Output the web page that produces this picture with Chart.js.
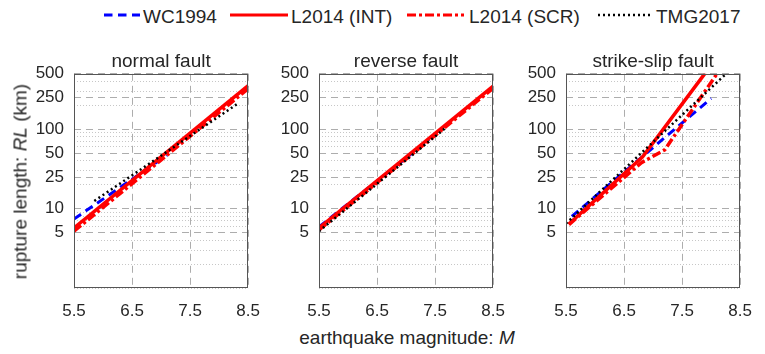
<!DOCTYPE html>
<html>
<head>
<meta charset="utf-8">
<script src="https://cdn.jsdelivr.net/npm/chart.js@4.4.0/dist/chart.umd.min.js"></script>
<style>
  body { margin: 0; background: #fff; }
  #fig {
    position: relative;
    width: 765px;
    height: 354px;
    font-family: "Liberation Sans", Arial, sans-serif;
    color: #262626;
  }
  canvas { position: absolute; }
  .txt { position: absolute; font-size: 19px; line-height: 19px; white-space: nowrap; }
  .key { position: absolute; top: 9px; }
</style>
</head>
<body>
<div id="fig">
  <!-- legend -->
  <svg class="key" style="left:104px" width="36" height="12"><line x1="0" y1="6" x2="36" y2="6" stroke="#0000ff" stroke-width="3" stroke-dasharray="8.5 5.5"/></svg>
  <div class="txt" style="left:143px;top:7px">WC1994</div>
  <svg class="key" style="left:230px" width="58" height="12"><line x1="0" y1="6" x2="58" y2="6" stroke="#ff0000" stroke-width="3"/></svg>
  <div class="txt" style="left:291px;top:7px">L2014 (INT)</div>
  <svg class="key" style="left:407px" width="57" height="12"><line x1="0" y1="6" x2="57" y2="6" stroke="#ff0000" stroke-width="3" stroke-dasharray="9 3 3 3"/></svg>
  <div class="txt" style="left:469px;top:7px">L2014 (SCR)</div>
  <svg class="key" style="left:598px" width="55" height="12"><line x1="0" y1="6" x2="55" y2="6" stroke="#000" stroke-width="2.5" stroke-dasharray="2 3"/></svg>
  <div class="txt" style="left:656px;top:7px">TMG2017</div>

  <canvas id="normalChart" width="263" height="276" style="left:10px;top:48px"></canvas>
  <canvas id="reverseChart" width="263" height="276" style="left:255px;top:48px"></canvas>
  <canvas id="strikeChart" width="263" height="276" style="left:502px;top:48px"></canvas>

  <div class="txt" style="left:-130px;top:172px;width:300px;text-align:center;transform:rotate(-90deg)">rupture length: <i>RL</i> (km)</div>
  <div class="txt" style="left:257px;top:328px;width:300px;text-align:center">earthquake magnitude: <i>M</i></div>
</div>

<script>
// Axis ticks
const magTicks = [5.5, 6.5, 7.5, 8.5];
const rlTicks = [5, 10, 25, 50, 100, 250, 500];
const rlMinor = [1, 2, 3, 4, 6, 7, 8, 9, 20, 30, 40, 60, 70, 80, 90, 200, 300, 400];

// Normal fault
const normalWcM = [5.5, 7.1];
const normalWcRL = [7.4, 47];
const normalIntM = [5.5, 8.5];
const normalIntRL = [5.7, 355];
const normalScrM = [5.5, 8.5];
const normalScrRL = [5.2, 325];
const normalTmgM = [5.85, 8.34];
const normalTmgRL = [12.5, 215];

// Reverse fault
const reverseWcM = [5.5, 7.4];
const reverseWcRL = [5.9, 74];
const reverseIntM = [5.5, 8.5];
const reverseIntRL = [5.7, 350];
const reverseScrM = [5.5, 8.5];
const reverseScrRL = [5.4, 330];
const reverseTmgM = [5.5, 7.68];
const reverseTmgRL = [5.2, 104];

// Strike-slip fault
const strikeWcM = [5.6, 8.0];
const strikeWcRL = [8.0, 245];
const strikeIntM = [5.55, 6.82, 7.9];
const strikeIntRL = [6.4, 45, 514];
const strikeScrM = [5.55, 6.8, 7.2, 8.1];
const strikeScrRL = [6.3, 38, 55, 500];
const strikeTmgM = [5.5, 8.27];
const strikeTmgRL = [6.5, 510];

const FONT = "'Liberation Sans', Arial, sans-serif";
const TEXT = "#262626";

function points(m, rl) {
  return m.map((v, i) => ({ x: v, y: rl[i] }));
}

// Box round the plot area, like MATLAB "box on"
const framePlugin = {
  id: "frame",
  afterDatasetsDraw(chart) {
    const { ctx, chartArea: a } = chart;
    ctx.save();
    ctx.strokeStyle = "#555";
    ctx.lineWidth = 1;
    ctx.strokeRect(
      Math.round(a.left) + 0.5,
      Math.round(a.top) + 0.5,
      Math.round(a.right - a.left) - 1,
      Math.round(a.bottom - a.top) - 1
    );
    ctx.restore();
  },
};

function makePanel(canvasId, title, wc, int, scr, tmg) {
  const ctx = document.getElementById(canvasId).getContext("2d");
  const gridValues = rlTicks.concat(rlMinor).sort((a, b) => a - b);
  const isMajor = (c) => c.tick && rlTicks.includes(c.tick.value);

  return new Chart(ctx, {
    type: "line",
    data: {
      datasets: [
        {
          label: "WC1994",
          data: points(wc[0], wc[1]),
          borderColor: "#0000ff",
          borderWidth: 3,
          borderDash: [8.5, 5.5],
          order: 4,
        },
        {
          label: "L2014 (INT)",
          data: points(int[0], int[1]),
          borderColor: "#ff0000",
          borderWidth: 3.5,
          order: 3,
        },
        {
          label: "L2014 (SCR)",
          data: points(scr[0], scr[1]),
          borderColor: "#ff0000",
          borderWidth: 3.5,
          borderDash: [9, 3, 3, 3],
          order: 2,
        },
        {
          label: "TMG2017",
          data: points(tmg[0], tmg[1]),
          borderColor: "#000000",
          borderWidth: 2.5,
          borderDash: [2, 3],
          order: 1,
        },
      ],
    },
    options: {
      responsive: false,
      animation: false,
      devicePixelRatio: 1,
      layout: { padding: { left: 0, right: 14, top: 0, bottom: 0 } },
      elements: { point: { radius: 0 }, line: { tension: 0, fill: false } },
      plugins: {
        legend: { display: false },
        tooltip: { enabled: false },
        title: {
          display: true,
          fullSize: false,
          text: title,
          color: TEXT,
          font: { family: FONT, size: 19, weight: "normal", lineHeight: 1.2 },
          padding: { top: 2, bottom: 1 },
        },
      },
      scales: {
        x: {
          type: "linear",
          min: 5.5,
          max: 8.5,
          afterBuildTicks: (s) => {
            s.ticks = magTicks.map((v) => ({ value: v }));
          },
          afterFit: (s) => {
            s.height = 36;
          },
          ticks: {
            autoSkip: false,
            maxRotation: 0,
            padding: 13,
            color: TEXT,
            font: { family: FONT, size: 17 },
            callback: (v) => v.toFixed(1),
          },
          grid: { drawTicks: false, color: "rgba(0,0,0,0.32)", lineWidth: 1 },
          border: { display: false, dash: [7, 5] },
        },
        y: {
          type: "logarithmic",
          min: 1,
          max: 500,
          afterBuildTicks: (s) => {
            s.ticks = gridValues.map((v) => ({ value: v }));
          },
          afterFit: (s) => {
            s.width = 64;
          },
          ticks: {
            autoSkip: false,
            padding: 10,
            color: TEXT,
            font: { family: FONT, size: 17 },
            callback: (v) => (rlTicks.includes(v) ? String(v) : ""),
          },
          grid: {
            drawTicks: false,
            lineWidth: 1,
            color: (c) => (isMajor(c) ? "rgba(0,0,0,0.32)" : "rgba(0,0,0,0.22)"),
          },
          border: {
            display: false,
            dash: (c) => (c.tick ? (isMajor(c) ? [7, 5] : [1, 2]) : []),
          },
        },
      },
    },
    plugins: [framePlugin],
  });
}

document.addEventListener("DOMContentLoaded", () => {
  makePanel("normalChart", "normal fault",
    [normalWcM, normalWcRL], [normalIntM, normalIntRL],
    [normalScrM, normalScrRL], [normalTmgM, normalTmgRL]);
  makePanel("reverseChart", "reverse fault",
    [reverseWcM, reverseWcRL], [reverseIntM, reverseIntRL],
    [reverseScrM, reverseScrRL], [reverseTmgM, reverseTmgRL]);
  makePanel("strikeChart", "strike-slip fault",
    [strikeWcM, strikeWcRL], [strikeIntM, strikeIntRL],
    [strikeScrM, strikeScrRL], [strikeTmgM, strikeTmgRL]);
});
</script>
</body>
</html>
